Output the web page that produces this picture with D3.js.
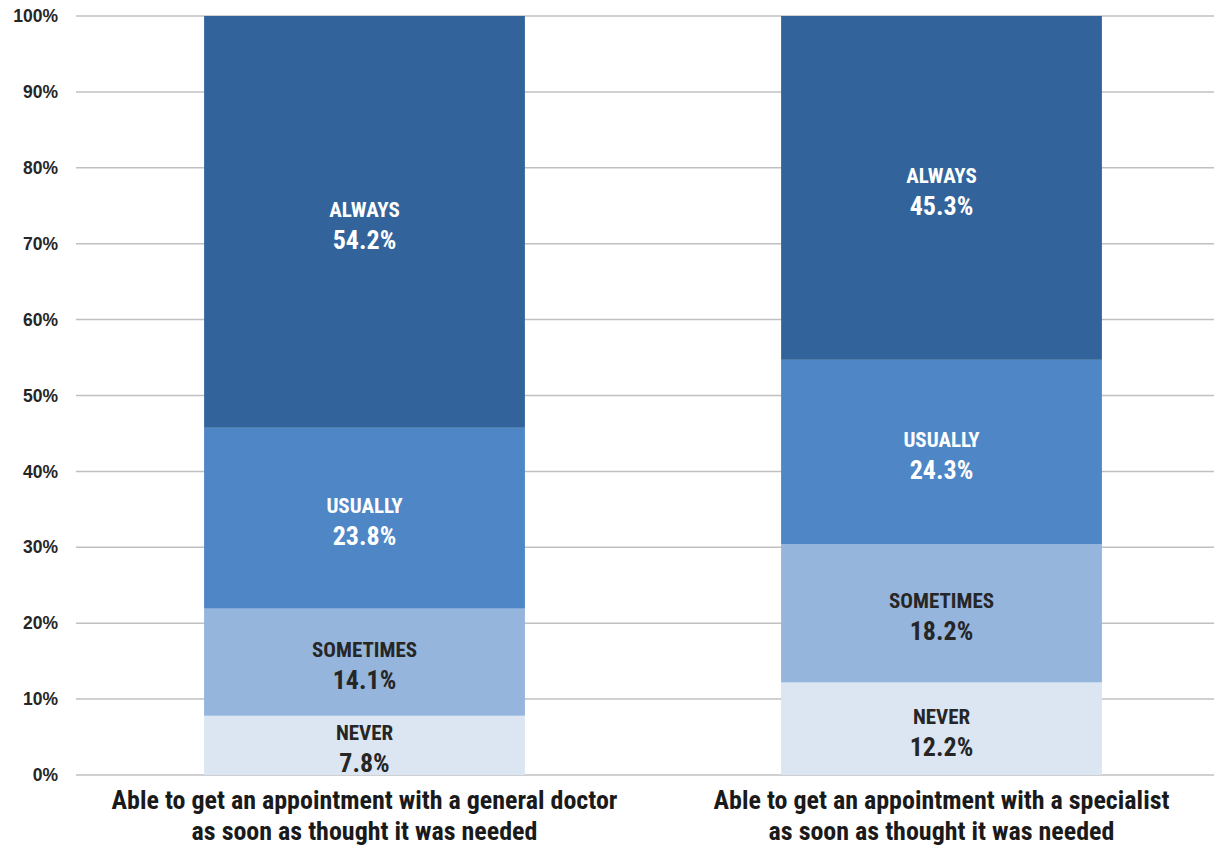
<!DOCTYPE html>
<html>
<head>
<meta charset="utf-8">
<script src="https://cdn.jsdelivr.net/npm/d3@7"></script>
<style>
  body { margin: 0; background: #fff; }
  svg text { font-family: "Liberation Sans Narrow", "Arial Narrow", "Roboto Condensed", sans-serif; font-weight: bold; }
</style>
</head>
<body>
<div id="chart"></div>
<script>
// data
const categories = [
  ["Able to get an appointment with a general doctor", "as soon as thought it was needed"],
  ["Able to get an appointment with a specialist", "as soon as thought it was needed"]
];
const seriesNames = ["NEVER", "SOMETIMES", "USUALLY", "ALWAYS"];
const never = [7.8, 12.2];
const sometimes = [14.1, 18.2];
const usually = [23.8, 24.3];
const always = [54.2, 45.3];
const yTicks = [0, 10, 20, 30, 40, 50, 60, 70, 80, 90, 100];

const colors = {NEVER: "#dbe6f2", SOMETIMES: "#95b5dc", USUALLY: "#4e86c6", ALWAYS: "#32649b"};
const textColors = {NEVER: "#262626", SOMETIMES: "#262626", USUALLY: "#ffffff", ALWAYS: "#ffffff"};

const width = 1214, height = 845;
const margin = {top: 16, left: 76, bottom: 70};
const plotBottom = height - margin.bottom; // 775

const svg = d3.select("#chart").append("svg")
  .attr("width", width)
  .attr("height", height);

const rows = categories.map((c, i) => ({
  idx: i,
  NEVER: never[i], SOMETIMES: sometimes[i], USUALLY: usually[i], ALWAYS: always[i]
}));

const x = d3.scaleBand()
  .domain(rows.map(d => d.idx))
  .range([margin.left, 1230])
  .paddingInner(0.444)
  .paddingOuter(0.222);

// 100% stacked: shares are normalised so each bar fills the axis
const y = d3.scaleLinear()
  .domain([0, 1])
  .range([plotBottom, margin.top]);

// gridlines
svg.append("g")
  .selectAll("line")
  .data(yTicks)
  .join("line")
    .attr("x1", margin.left)
    .attr("x2", width)
    .attr("y1", d => y(d / 100))
    .attr("y2", d => y(d / 100))
    .attr("stroke", "#c0c0c0")
    .attr("stroke-width", 1.5);

// y axis labels
const yAxis = svg.append("g")
  .attr("transform", `translate(${margin.left - 18},0)`)
  .call(d3.axisLeft(y).tickValues(yTicks.map(t => t / 100)).tickFormat(d => Math.round(d * 100) + "%").tickSize(0).tickPadding(0));
yAxis.select(".domain").remove();
yAxis.selectAll("text")
  .attr("font-size", 17.5)
  .attr("fill", "#262626")
  .style("font-family", "'Liberation Sans Narrow', 'Arial Narrow', sans-serif")
  .style("font-weight", "bold");

// stacked bars
const stacked = d3.stack().keys(seriesNames).offset(d3.stackOffsetExpand)(rows);

const layer = svg.append("g")
  .selectAll("g")
  .data(stacked)
  .join("g")
    .attr("fill", s => colors[s.key]);

layer.selectAll("rect")
  .data(s => s.map(p => ({key: s.key, p: p})))
  .join("rect")
    .attr("x", d => x(d.p.data.idx))
    .attr("width", x.bandwidth())
    .attr("y", d => y(d.p[1]))
    .attr("height", d => y(d.p[0]) - y(d.p[1]));

// segment labels
const labels = svg.append("g")
  .selectAll("g")
  .data(stacked.flatMap(s => s.map(p => ({key: s.key, p: p}))))
  .join("g")
    .attr("transform", d => `translate(${x(d.p.data.idx) + x.bandwidth() / 2},${(y(d.p[0]) + y(d.p[1])) / 2})`)
    .attr("text-anchor", "middle")
    .attr("fill", d => textColors[d.key]);

labels.append("text")
  .attr("y", -12.5)
  .attr("dy", "0.35em")
  .attr("font-size", 21)
  .text(d => d.key);

labels.append("text")
  .attr("y", 18)
  .attr("dy", "0.35em")
  .attr("font-size", 26)
  .text(d => d.p.data[d.key].toFixed(1) + "%");

// category labels
const cat = svg.append("g")
  .selectAll("text")
  .data(rows)
  .join("text")
    .attr("x", d => x(d.idx) + x.bandwidth() / 2)
    .attr("y", 800)
    .attr("text-anchor", "middle")
    .attr("font-size", 26)
    .attr("fill", "#1a1a1a");

cat.selectAll("tspan")
  .data(d => categories[d.idx])
  .join("tspan")
    .attr("x", function() { return this.parentNode.getAttribute("x"); })
    .attr("dy", (d, i) => i === 0 ? "0.35em" : 31)
    .text(d => d);
</script>
</body>
</html>
